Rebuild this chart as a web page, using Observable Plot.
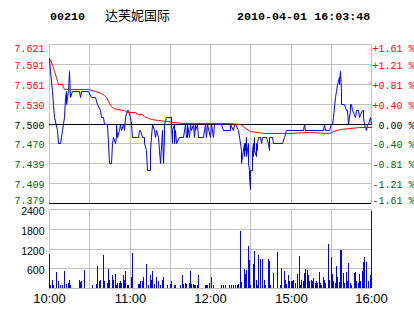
<!DOCTYPE html>
<html><head><meta charset="utf-8">
<script src="https://cdn.jsdelivr.net/npm/d3@7"></script>
<script src="https://cdn.jsdelivr.net/npm/@observablehq/plot@0.6"></script>
<style>
body{margin:0;background:#fff;}
#wrap{position:relative;width:414px;height:314px;overflow:hidden;background:#fff;}
#wrap svg{position:absolute;left:0;}
.t{position:absolute;white-space:nowrap;color:#000;}
.mono{font-family:"Liberation Mono","DejaVu Sans Mono",monospace;font-weight:bold;font-size:11.7px;line-height:12px;}
.cjk{font-family:"Noto Sans CJK SC",sans-serif;font-size:13px;line-height:13px;}
</style></head><body>
<div id="wrap">
  <div class="t mono" id="code" style="left:50px;top:11px"></div>
  <div class="t cjk" id="name" style="left:105px;top:8px"></div>
  <div class="t mono" id="stamp" style="left:237px;top:11px"></div>
</div>
<script>
const stockCode = "00210";
const stockName = "达芙妮国际";
const timestamp = "2010-04-01 16:03:48";
const prevClose = 7.50;
const maxPct = 1.61;
const timeTicks = [0, 60, 120, 180, 240];
const timeLabels = ["10:00", "11:00", "12:00", "15:00", "16:00"];
const gridMinutes = [0, 30, 60, 90, 120, 150, 180, 210, 240];
const priceLabels = ["7.621","7.591","7.561","7.530","7.500","7.470","7.439","7.409","7.379"];
const pctLabels = ["+1.61 %","+1.21 %","+0.81 %","+0.40 %"," 0.00 %","-0.40 %","-0.81 %","-1.21 %","-1.61 %"];
const volTicks = [600, 1200, 1800, 2400];

// [minute since 10:00 (trading), price]
const pricePoints = [[0,7.60],[1,7.58],[2,7.55],[3,7.53],[4,7.51],[6,7.49],[7,7.47],[8,7.47],[9,7.48],[10,7.49],[11,7.51],[12,7.54],[13,7.55],[13,7.53],[14,7.55],[15,7.58],[16,7.54],[17,7.55],[22,7.55],[23,7.54],[24,7.55],[29,7.55],[31,7.54],[34,7.54],[36,7.53],[38,7.52],[39,7.51],[40,7.51],[41,7.50],[43,7.50],[44,7.47],[45,7.44],[46,7.44],[47,7.47],[48,7.48],[49,7.47],[50,7.48],[50,7.50],[51,7.48],[52,7.49],[53,7.50],[54,7.49],[55,7.50],[56,7.49],[57,7.51],[58,7.52],[59,7.52],[60,7.51],[61,7.50],[62,7.48],[66,7.48],[67,7.49],[68,7.49],[69,7.48],[71,7.48],[71,7.47],[72,7.46],[73,7.43],[75,7.43],[75,7.46],[76,7.48],[77,7.50],[78,7.49],[79,7.48],[80,7.49],[81,7.48],[82,7.46],[83,7.44],[84,7.49],[85,7.44],[86,7.48],[86,7.50],[87,7.51],[91,7.51],[91,7.50],[92,7.47],[92,7.49],[93,7.50],[93,7.47],[94,7.49],[95,7.47],[97,7.48],[100,7.48],[101,7.50],[102,7.48],[103,7.48],[103,7.50],[104,7.48],[105,7.50],[106,7.49],[107,7.50],[108,7.48],[109,7.50],[109,7.49],[110,7.50],[111,7.48],[115,7.48],[116,7.50],[117,7.48],[118,7.50],[120,7.48],[121,7.50],[122,7.48],[123,7.50],[128,7.50],[130,7.49],[135,7.49],[135,7.50],[137,7.49],[138,7.50],[139,7.50],[141,7.49],[142,7.47],[143,7.46],[143,7.44],[144,7.45],[145,7.47],[145,7.45],[146,7.47],[146,7.46],[147,7.48],[147,7.45],[148,7.47],[148,7.44],[149,7.43],[149,7.42],[150,7.40],[150,7.43],[151,7.43],[151,7.46],[152,7.47],[152,7.45],[153,7.48],[153,7.46],[154,7.45],[154,7.47],[155,7.46],[155,7.47],[156,7.48],[157,7.48],[158,7.47],[159,7.48],[162,7.48],[163,7.47],[164,7.46],[164,7.48],[166,7.48],[167,7.47],[174,7.47],[175,7.48],[177,7.49],[189,7.49],[190,7.50],[191,7.49],[204,7.49],[205,7.50],[206,7.49],[209,7.49],[210,7.50],[211,7.50],[212,7.51],[213,7.54],[214,7.55],[215,7.56],[216,7.57],[216,7.56],[217,7.58],[218,7.55],[218,7.53],[220,7.53],[221,7.52],[222,7.52],[223,7.50],[224,7.52],[224,7.53],[225,7.53],[226,7.52],[228,7.51],[229,7.52],[230,7.52],[231,7.51],[233,7.52],[234,7.52],[234,7.51],[235,7.50],[236,7.49],[237,7.50],[238,7.50],[239,7.51],[240,7.50]];

// [minute, average price]
const avgPoints = [[0,7.60],[2,7.59],[4,7.58],[5,7.57],[6,7.565],[7,7.56],[10,7.56],[11,7.553],[13,7.552],[29,7.552],[34,7.55],[39,7.547],[41,7.544],[43,7.539],[44,7.534],[46,7.526],[48,7.523],[51,7.522],[56,7.52],[58,7.518],[64,7.517],[66,7.514],[69,7.514],[71,7.512],[74,7.509],[76,7.507],[81,7.505],[87,7.504],[99,7.5015],[133,7.5005],[142,7.499],[145,7.494],[150,7.489],[155,7.487],[160,7.485],[174,7.485],[178,7.486],[194,7.487],[209,7.486],[212,7.489],[217,7.491],[224,7.493],[231,7.494],[240,7.495]];

// [minute, volume]
const volPoints = [[0,1030],[1,100],[2,250],[3,100],[5,480],[7,220],[8,100],[10,80],[11,520],[13,130],[14,160],[15,250],[16,100],[22,250],[23,180],[24,220],[26,550],[32,100],[35,130],[36,680],[37,220],[38,250],[40,1010],[41,220],[43,160],[44,580],[45,250],[47,380],[48,250],[49,430],[50,100],[51,160],[52,160],[53,220],[54,160],[55,380],[56,250],[57,520],[58,100],[59,100],[61,340],[62,1060],[66,130],[67,130],[68,220],[69,220],[70,330],[72,725],[74,100],[75,380],[76,250],[77,520],[78,130],[80,340],[81,220],[83,100],[84,250],[85,340],[88,100],[90,130],[91,220],[93,100],[94,100],[98,100],[99,380],[100,130],[101,160],[102,130],[104,160],[105,520],[106,130],[107,130],[108,100],[109,80],[110,80],[111,380],[116,100],[117,100],[118,80],[119,160],[121,330],[122,100],[128,80],[130,100],[131,80],[134,100],[136,100],[137,80],[139,80],[140,100],[141,130],[142,1735],[143,190],[145,580],[146,420],[147,550],[148,1290],[149,860],[150,100],[152,725],[153,1130],[154,250],[155,100],[156,990],[157,870],[159,870],[160,250],[161,100],[163,870],[164,810],[165,100],[167,450],[170,1090],[172,80],[173,620],[175,520],[176,250],[177,130],[178,400],[179,220],[180,220],[181,220],[182,250],[183,160],[185,420],[186,970],[187,100],[188,250],[189,220],[190,450],[191,580],[192,550],[193,400],[194,220],[195,250],[196,220],[197,300],[198,160],[199,220],[200,160],[201,490],[202,160],[203,100],[204,340],[205,250],[206,160],[208,1330],[209,250],[210,930],[211,420],[212,220],[213,160],[214,680],[215,330],[216,190],[217,1160],[218,1160],[219,450],[220,160],[221,490],[222,220],[223,770],[224,160],[225,100],[227,450],[228,490],[229,220],[230,160],[231,420],[232,220],[233,520],[234,780],[235,930],[236,780],[238,220],[239,380],[240,2340]];

document.getElementById("code").textContent = stockCode;
document.getElementById("name").textContent = stockName;
document.getElementById("stamp").textContent = timestamp;

const RED = "#ff0000", GREEN = "#006400", BLUE = "#0000ff", GRID = "#c0c0c0";
const lo = prevClose * (1 - maxPct / 100), hi = prevClose * (1 + maxPct / 100);
const levels = d3.range(9).map(i => ({i, v: hi - i * (hi - lo) / 8, price: priceLabels[i], pct: pctLabels[i],
  color: i < 4 ? RED : i === 4 ? "#000000" : GREEN}));
const monoFont = "Liberation Mono, DejaVu Sans Mono, monospace";
const sansFont = "Liberation Sans, Arial, sans-serif";

function levelText(filter, anchor, dy) {
  const data = levels.filter(filter);
  return [
    Plot.text(data, {y: "v", text: "price", fill: "color", frameAnchor: "left", textAnchor: "end", dx: -5, lineAnchor: anchor, dy, fontFamily: monoFont, fontSize: 10}),
    Plot.text(data, {y: "v", text: "pct", fill: "color", frameAnchor: "right", textAnchor: "start", dx: 1, lineAnchor: anchor, dy, fontFamily: monoFont, fontSize: 10})
  ];
}

const pricePlot = Plot.plot({
  width: 414, height: 206,
  marginTop: 44, marginBottom: 3, marginLeft: 49, marginRight: 43,
  x: {domain: [0, 240], round: true, axis: null},
  y: {domain: [lo, hi], round: true, axis: null},
  style: {background: "transparent", overflow: "visible"},
  marks: [
    Plot.ruleX(gridMinutes, {x: d => d, stroke: GRID, strokeOpacity: 1}),
    Plot.ruleY(levels.filter(d => d.i !== 4 && d.i !== 8), {y: "v", stroke: GRID, strokeOpacity: 1}),
    Plot.ruleY(levels.filter(d => d.i === 4 || d.i === 8), {y: "v", stroke: "#000", strokeOpacity: 1}),
    Plot.line(pricePoints, {x: d => d[0], y: d => d[1], stroke: BLUE, strokeWidth: 1}),
    Plot.line(avgPoints, {x: d => d[0], y: d => d[1], stroke: RED, strokeWidth: 1}),
    ...levelText(d => d.i === 0, "top", 0),
    ...levelText(d => d.i > 0 && d.i < 8, "middle", 1),
    ...levelText(d => d.i === 8, "bottom", 0)
  ]
});
pricePlot.style.top = "0px";

const volPlot = Plot.plot({
  width: 414, height: 108,
  marginTop: 3, marginBottom: 26, marginLeft: 49, marginRight: 43,
  x: {domain: [0, 240], round: true, axis: null},
  y: {domain: [0, 2400], round: true, axis: null},
  style: {background: "transparent", overflow: "visible"},
  marks: [
    Plot.ruleX(gridMinutes, {x: d => d, stroke: GRID, strokeOpacity: 1}),
    Plot.ruleY([0, ...volTicks], {y: d => d, stroke: GRID, strokeOpacity: 1}),
    Plot.ruleX(volPoints, {x: d => d[0], y1: 0, y2: d => d[1], stroke: BLUE, strokeWidth: 1}),
    Plot.text(volTicks, {y: d => d, text: d => String(d), frameAnchor: "left", textAnchor: "end", dx: -5, dy: 2.5, fontFamily: sansFont, fontSize: 10.5, fill: "#000"}),
    Plot.text(timeTicks, {x: d => d, text: (d, i) => timeLabels[i], frameAnchor: "bottom", lineAnchor: "top", dy: 5, fontFamily: "Liberation Sans Narrow, " + sansFont, fontSize: 13, fill: "#000"})
  ]
});
volPlot.style.top = "206px";

const wrap = document.getElementById("wrap");
wrap.insertBefore(volPlot, wrap.firstChild);
wrap.insertBefore(pricePlot, wrap.firstChild);
</script>
</body></html>
